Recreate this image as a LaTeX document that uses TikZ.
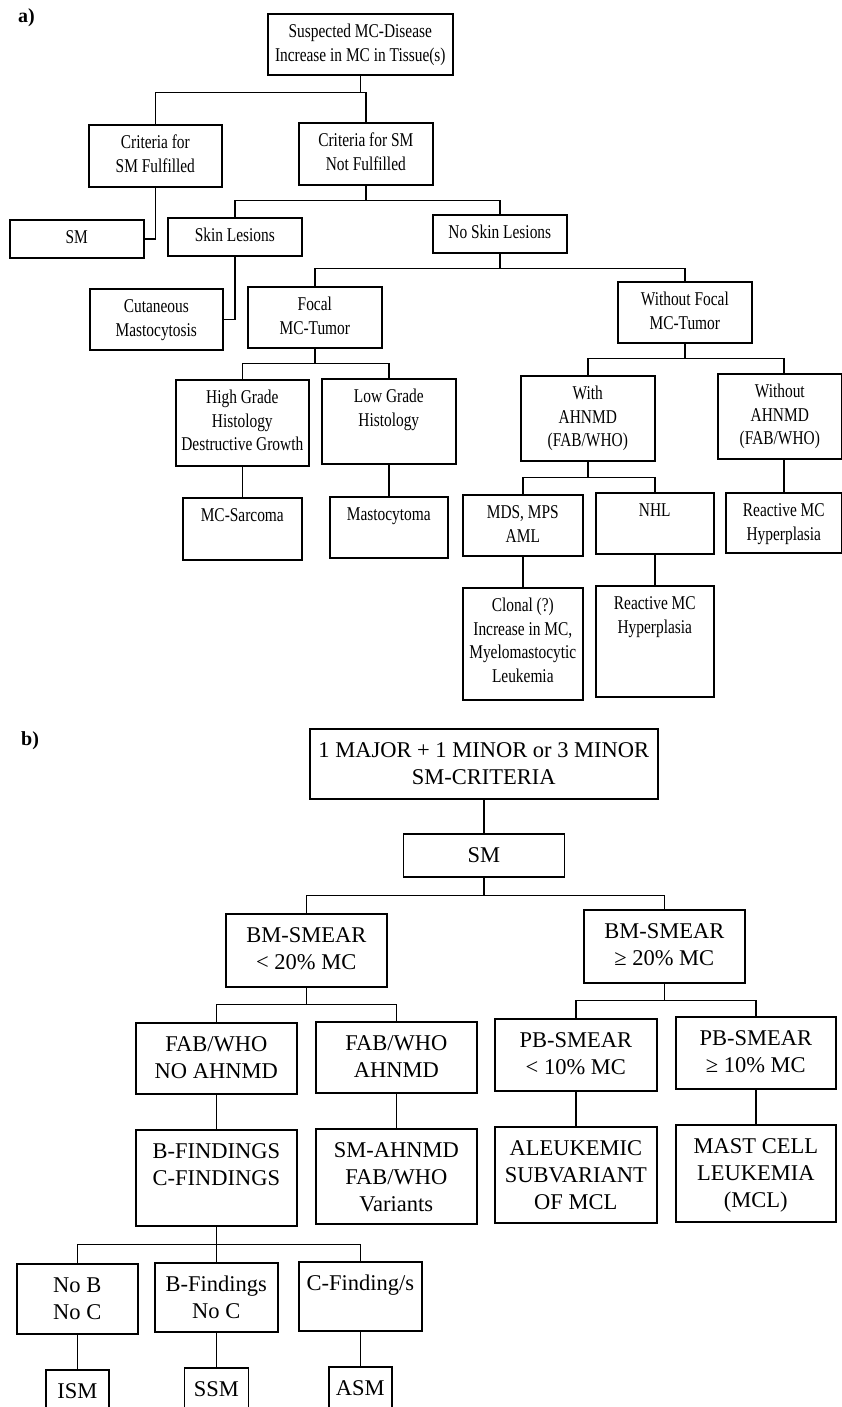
\documentclass[tikz,border=0pt]{standalone}
\usepackage{fontspec}
\setmainfont{Liberation Serif}
\newfontfamily\narrowrm[FakeStretch=0.79]{Liberation Serif}
% box text: width, height, lines (top aligned)
\newcommand{\textA}[3]{\parbox[c][#2][t]{#1}{\centering\narrowrm\fontsize{19.5}{23.5}\selectfont\rule{0pt}{24pt}#3}}
\newcommand{\textB}[3]{\parbox[c][#2][t]{#1}{\centering\fontsize{22.5}{27}\selectfont\rule{0pt}{28.5pt}#3}}

\begin{document}
\begin{tikzpicture}[x=1pt, y=-1pt, line width=1.6pt,
  box/.style={draw, rectangle, inner sep=0pt, anchor=north west},
  panel/.style={anchor=base west, font=\bfseries\fontsize{20}{24}\selectfont}]
\useasboundingbox (0,0) rectangle (842,1407);
\clip (0,0) rectangle (842,1407);

% a)
\node[panel] (lbla) at (14,23) {a)};
\node[box] (susp) at (267,13) {\textA{185pt}{61pt}{Suspected MC-Disease\\Increase in MC in Tissue(s)}};
\node[box] (crityes) at (88,124) {\textA{133pt}{62pt}{Criteria for\\SM Fulfilled}};
\node[box] (critno) at (298,122) {\textA{134pt}{62pt}{Criteria for SM\\Not Fulfilled}};
\node[box] (sma) at (9,219) {\textA{134pt}{38pt}{SM}};
\node[box] (skin) at (167,217) {\textA{134pt}{38pt}{Skin Lesions}};
\node[box] (noskin) at (432,214) {\textA{134pt}{38pt}{No Skin Lesions}};
\node[box] (cutan) at (89,288) {\textA{133pt}{61pt}{Cutaneous\\Mastocytosis}};
\node[box] (focal) at (247,286) {\textA{134pt}{61pt}{Focal\\MC-Tumor}};
\node[box] (wfocal) at (617,281) {\textA{134pt}{61pt}{Without Focal\\MC-Tumor}};
\node[box] (high) at (175,379) {\textA{133pt}{86pt}{High Grade\\Histology\\Destructive Growth}};
\node[box] (low) at (321,378) {\textA{134pt}{85pt}{Low Grade\\Histology}};
\node[box] (with) at (520,375) {\textA{134pt}{85pt}{With\\AHNMD\\(FAB/WHO)}};
\node[box] (without) at (717,373) {\textA{124pt}{85pt}{Without\\AHNMD\\(FAB/WHO)}};
\node[box] (sarc) at (182,497) {\textA{119pt}{62pt}{MC-Sarcoma}};
\node[box] (masto) at (329,496) {\textA{118pt}{61pt}{Mastocytoma}};
\node[box] (mds) at (462,494) {\textA{120pt}{61pt}{MDS, MPS\\AML}};
\node[box] (nhl) at (595,492) {\textA{118pt}{61pt}{NHL}};
\node[box] (reacta) at (725,492) {\textA{116pt}{60pt}{Reactive MC\\Hyperplasia}};
\node[box] (clonal) at (462,587) {\textA{120pt}{112pt}{Clonal (?)\\Increase in MC,\\Myelomastocytic\\Leukemia}};
\node[box] (reactb) at (595,585) {\textA{118pt}{111pt}{Reactive MC\\Hyperplasia}};

\draw (susp.south) -- ++(0,17) coordinate (ja);
\draw (crityes.north) |- (ja) -| (critno.north);
\draw (crityes.south) |- (sma.east);
\draw (critno.south) -- ++(0,15) coordinate (jb);
\draw (skin.north) |- (jb) -| (noskin.north);
\draw (skin.south) |- (cutan.east);
\draw (noskin.south) -- ++(0,15) coordinate (jc);
\draw (focal.north) |- (jc) -| (wfocal.north);
\draw (focal.south) -- ++(0,15) coordinate (jd);
\draw (high.north) |- (jd) -| (low.north);
\draw (high.south) -- (sarc.north);
\draw (low.south) -- (masto.north);
\draw (wfocal.south) -- ++(0,15) coordinate (je);
\draw (with.north) |- (je) -| (reacta.north |- without.north);
\draw (without.south -| reacta.north) -- (reacta.north);
\draw (with.south) -- ++(0,16) coordinate (jf);
\draw (mds.north) |- (jf) -| (nhl.north);
\draw (mds.south) -- (clonal.north);
\draw (nhl.south) -- (reactb.north);

% b)
\node[panel] (lblb) at (17,745) {b)};
\node[box] (smcrit) at (309,728) {\textB{348pt}{70pt}{1 MAJOR + 1 MINOR or 3 MINOR\\SM-CRITERIA}};
\node[box] (smb) at (402.5,833) {\textB{161pt}{43pt}{SM}};
\node[box] (bmlow) at (225,913) {\textB{161pt}{73pt}{BM-SMEAR\\< 20\% MC}};
\node[box] (bmhigh) at (583,909) {\textB{161pt}{73pt}{BM-SMEAR\\≥ 20\% MC}};
\node[box] (fabno) at (135,1022) {\textB{161pt}{71pt}{FAB/WHO\\NO AHNMD}};
\node[box] (fabyes) at (315,1021) {\textB{161pt}{71pt}{FAB/WHO\\AHNMD}};
\node[box] (pblow) at (494,1018) {\textB{162pt}{72pt}{PB-SMEAR\\< 10\% MC}};
\node[box] (pbhigh) at (675,1016) {\textB{160pt}{72pt}{PB-SMEAR\\≥ 10\% MC}};
\node[box] (bcfind) at (135,1129) {\textB{161pt}{96pt}{B-FINDINGS\\C-FINDINGS}};
\node[box] (smahnmd) at (315,1128) {\textB{161pt}{95pt}{SM-AHNMD\\FAB/WHO\\Variants}};
\node[box] (aleuk) at (494,1126) {\textB{162pt}{96pt}{ALEUKEMIC\\SUBVARIANT\\OF MCL}};
\node[box] (mcl) at (675,1124) {\textB{160pt}{97pt}{MAST CELL\\LEUKEMIA\\(MCL)}};
\node[box] (nobc) at (16,1263) {\textB{121pt}{70pt}{No B\\No C}};
\node[box] (bnoc) at (154,1262) {\textB{123pt}{69pt}{B-Findings\\No C}};
\node[box] (cfind) at (298,1261) {\textB{123pt}{69pt}{C-Finding/s}};
\node[box] (ism) at (45,1369) {\textB{63pt}{50pt}{ISM}};
\node[box] (ssm) at (183.5,1367) {\textB{64pt}{50pt}{SSM}};
\node[box] (asm) at (328,1366) {\textB{63pt}{50pt}{ASM}};

\draw (smcrit.south) -- (smb.north);
\draw (smb.south) -- ++(0,18) coordinate (jg);
\draw (bmlow.north) |- (jg) -| (bmhigh.north);
\draw (bmlow.south) -- ++(0,17) coordinate (jh);
\draw (fabno.north) |- (jh) -| (fabyes.north);
\draw (bmhigh.south) -- ++(0,17) coordinate (ji);
\draw (pblow.north) |- (ji) -| (pbhigh.north);
\draw (fabno.south) -- (bcfind.north);
\draw (fabyes.south) -- (smahnmd.north);
\draw (pblow.south) -- (aleuk.north);
\draw (pbhigh.south) -- (mcl.north);
\draw (bcfind.south) -- ++(0,18) coordinate (jk);
\draw (nobc.north) |- (jk) -| (cfind.north);
\draw (jk) -- (bnoc.north);
\draw (nobc.south) -- (ism.north);
\draw (bnoc.south) -- (ssm.north);
\draw (cfind.south) -- (asm.north);
\end{tikzpicture}
\end{document}
